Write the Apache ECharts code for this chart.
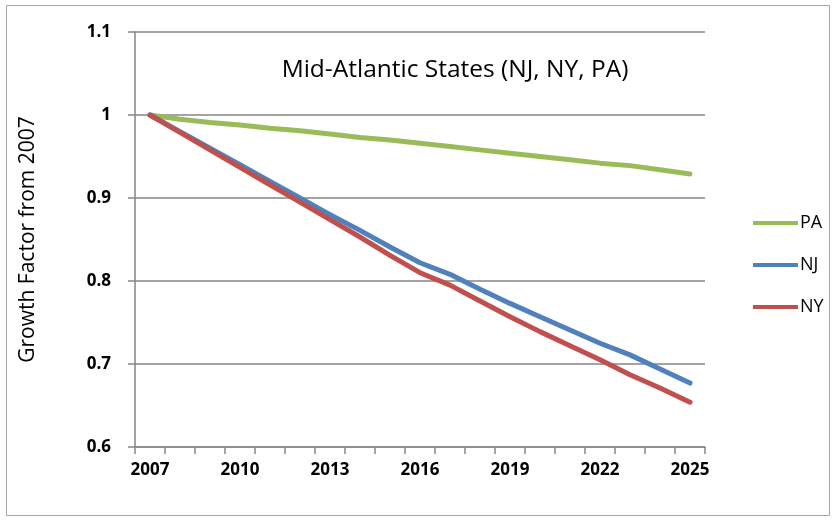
<!DOCTYPE html>
<html>
<head>
<meta charset="utf-8">
<script src="https://cdn.jsdelivr.net/npm/echarts@6/dist/echarts.min.js"></script>
<style>html,body{margin:0;padding:0;background:#fff}#c{width:840px;height:522px}</style>
</head>
<body>
<div id="c"></div>
<script>
const years = ['2007','2008','2009','2010','2011','2012','2013','2014','2015','2016','2017','2018','2019','2020','2021','2022','2023','2024','2025'];
const PA = [1.000,0.995,0.991,0.988,0.984,0.981,0.977,0.973,0.970,0.966,0.962,0.958,0.954,0.950,0.946,0.942,0.939,0.934,0.929];
const NJ = [1.000,0.980,0.960,0.940,0.920,0.900,0.880,0.861,0.841,0.822,0.808,0.790,0.773,0.757,0.741,0.725,0.711,0.694,0.677];
const NY = [1.000,0.979,0.958,0.937,0.916,0.895,0.874,0.853,0.831,0.810,0.795,0.776,0.757,0.739,0.722,0.705,0.687,0.671,0.654];
const titleText = 'Mid-Atlantic States (NJ, NY, PA)';
const yName = 'Growth Factor from 2007';

const font = '"Open Sans", Lato, sans-serif';
const chart = echarts.init(document.getElementById('c'), null, {renderer:'canvas'});
const mk = (name, data, color) => ({
  name, type:'line', data, symbol:'none', smooth:false,
  lineStyle:{color, width:5, cap:'round', join:'round'}, itemStyle:{color}
});
chart.setOption({
  animation:false,
  backgroundColor:'#fff',
  graphic:[{type:'rect', shape:{x:6.5,y:5.5,width:823,height:510}, style:{fill:'none', stroke:'#a6a6a6', lineWidth:1}, silent:true}],
  title:{text:titleText, left:450, top:53, textAlign:'center',
    textStyle:{fontFamily:font, fontSize:24.5, fontWeight:'normal', color:'#000'}},
  legend:{orient:'vertical', left:748, top:209, itemGap:24, itemWidth:45, itemHeight:4,
    icon:'rect', textStyle:{fontFamily:font, fontSize:18, color:'#000', padding:[0,0,0,-3]},
    data:['PA','NJ','NY']},
  grid:{left:135, right:135, top:32, bottom:75},
  xAxis:{type:'category', data:years, boundaryGap:true,
    axisLine:{lineStyle:{color:'#868686', width:1.5}},
    axisTick:{show:true, interval:0, length:7, lineStyle:{color:'#868686', width:1.5}},
    axisLabel:{interval:2, margin:15, fontFamily:font, fontSize:17, fontWeight:'bold', color:'#000'},
    splitLine:{show:false}},
  yAxis:{type:'value', min:0.6, max:1.1, interval:0.1,
    name:yName, nameLocation:'middle', nameGap:96, nameRotate:90,
    nameTextStyle:{fontFamily:font, fontSize:21, color:'#000'},
    axisLine:{show:true, lineStyle:{color:'#868686', width:1.5}},
    axisTick:{show:true, length:7, lineStyle:{color:'#868686', width:1.5}},
    axisLabel:{margin:24, fontFamily:font, fontSize:17, fontWeight:'bold', color:'#000',
      formatter:v=>String(Math.round(v*10)/10)},
    splitLine:{lineStyle:{color:'#868686', width:1.5}}},
  series:[mk('PA',PA,'#9bbb59'), mk('NJ',NJ,'#4f81bd'), mk('NY',NY,'#c0504d')]
});
</script>
</body>
</html>
